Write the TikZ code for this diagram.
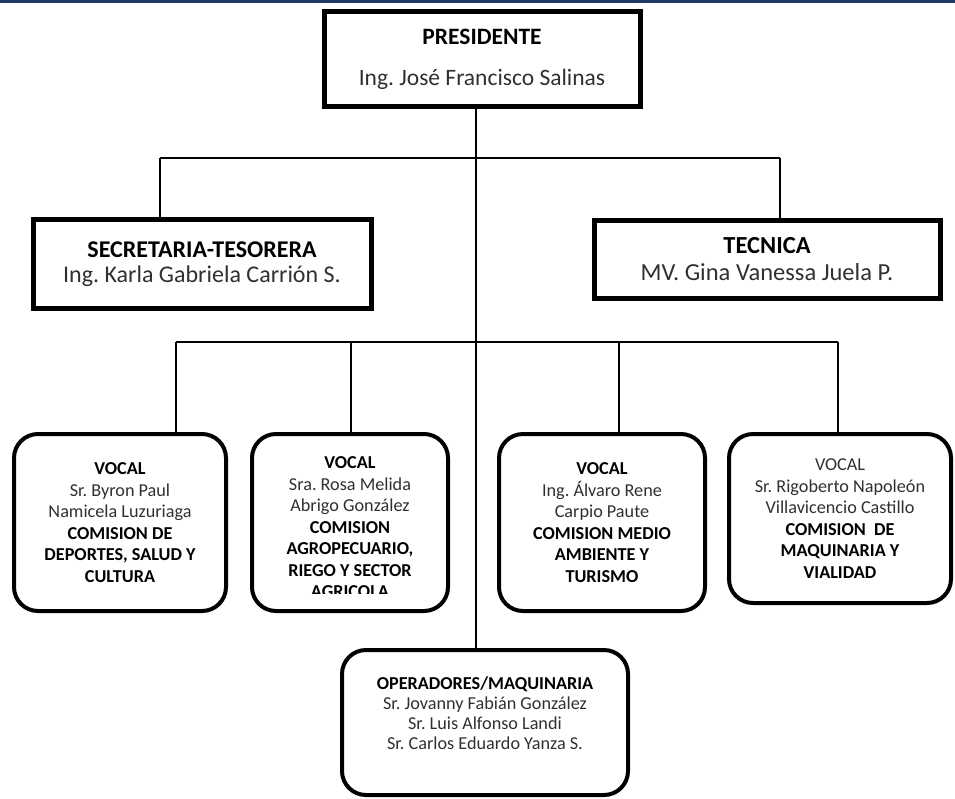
\documentclass[tikz,border=0pt]{standalone}
\usepackage{fontspec}
\setmainfont{Carlito}
\definecolor{topblue}{HTML}{1F3864}
\definecolor{txtgray}{HTML}{303030}
\frenchspacing
\begin{document}
\begin{tikzpicture}[x=1pt,y=-1pt,
  conn/.style={line width=2pt},
  sqbox/.style={draw, line width=5pt, inner sep=0pt, align=center, text=txtgray},
  rbox/.style={draw, line width=4pt, rounded corners=24pt, inner sep=0pt, align=center, text=txtgray, font=\fontsize{18.2}{21.5}\selectfont},
  smalltext/.style={align=center, inner sep=0pt, text=txtgray, font=\fontsize{18.2}{21.5}\selectfont}]
\useasboundingbox (0,0) rectangle (955,798);
\fill[topblue] (0,0) rectangle (955,3);
% boxes
\node[sqbox, minimum width=316pt, minimum height=95pt, font=\fontsize{23.5}{41}\selectfont] (pres) at (482,59)
  {\textbf{\color{black}PRESIDENTE}\\Ing. José Francisco Salinas};
\node[sqbox, minimum width=338pt, minimum height=89pt, font=\fontsize{24}{25}\selectfont] (sec) at (202,264)
  {\textbf{\color{black}SECRETARIA-TESORERA}\\Ing. Karla Gabriela Carrión S.};
\node[sqbox, minimum width=346pt, minimum height=78pt, font=\fontsize{24.5}{27}\selectfont] (tec) at (767,259)
  {\textbf{\color{black}TECNICA}\\MV. Gina Vanessa Juela P.};
\node[rbox, minimum width=212pt, minimum height=177pt] (v1) at (120,522.5)
  {\textbf{\color{black}VOCAL}\\Sr. Byron Paul\\Namicela Luzuriaga\\\textbf{\color{black}COMISION DE}\\\textbf{\color{black}DEPORTES, SALUD Y}\\\textbf{\color{black}CULTURA}};
\node[rbox, minimum width=196pt, minimum height=177pt] (v2) at (350,522.5) {};
\begin{scope}
  \clip (252,434) rectangle (448,593);
  \node[smalltext] (v2text) at (350,527.5)
    {\textbf{\color{black}VOCAL}\\Sra. Rosa Melida\\Abrigo González\\\textbf{\color{black}COMISION}\\\textbf{\color{black}AGROPECUARIO,}\\\textbf{\color{black}RIEGO Y SECTOR}\\\textbf{\color{black}AGRICOLA}};
\end{scope}
\node[rbox, minimum width=206pt, minimum height=177pt] (v3) at (602,522.5)
  {\textbf{\color{black}VOCAL}\\Ing. Álvaro Rene\\Carpio Paute\\\textbf{\color{black}COMISION MEDIO}\\\textbf{\color{black}AMBIENTE Y}\\\textbf{\color{black}TURISMO}};
\node[rbox, minimum width=222pt, minimum height=169pt] (v4) at (840,518.5)
  {VOCAL\\Sr. Rigoberto Napoleón\\Villavicencio Castillo\\\textbf{\color{black}COMISION\ \ DE}\\\textbf{\color{black}MAQUINARIA Y}\\\textbf{\color{black}VIALIDAD}};
\node[rbox, minimum width=286pt, minimum height=145pt, font=\fontsize{18.2}{20}\selectfont] (bot) at (485,722.5)
  {\textbf{\color{black}OPERADORES/MAQUINARIA}\\Sr. Jovanny Fabián González\\Sr. Luis Alfonso Landi\\Sr. Carlos Eduardo Yanza S.\\[-1pt]};
% connectors
\coordinate (spine) at (476,0);
\draw[conn] (pres.south -| spine) -- (bot.north -| spine);
\coordinate (j1L) at (160,158);
\coordinate (j1R) at (780,158);
\draw[conn] (j1L) -- (j1R);
\draw[conn] (j1L) -- (j1L |- sec.north);
\draw[conn] (j1R) -- (j1R |- tec.north);
\coordinate (d1) at (176,342);
\coordinate (d2) at (351,342);
\coordinate (d3) at (619,342);
\coordinate (d4) at (838,342);
\draw[conn] (d1) -- (d4);
\draw[conn] (d1) -- (d1 |- v1.north);
\draw[conn] (d2) -- (d2 |- v2.north);
\draw[conn] (d3) -- (d3 |- v3.north);
\draw[conn] (d4) -- (d4 |- v4.north);
\end{tikzpicture}
\end{document}
